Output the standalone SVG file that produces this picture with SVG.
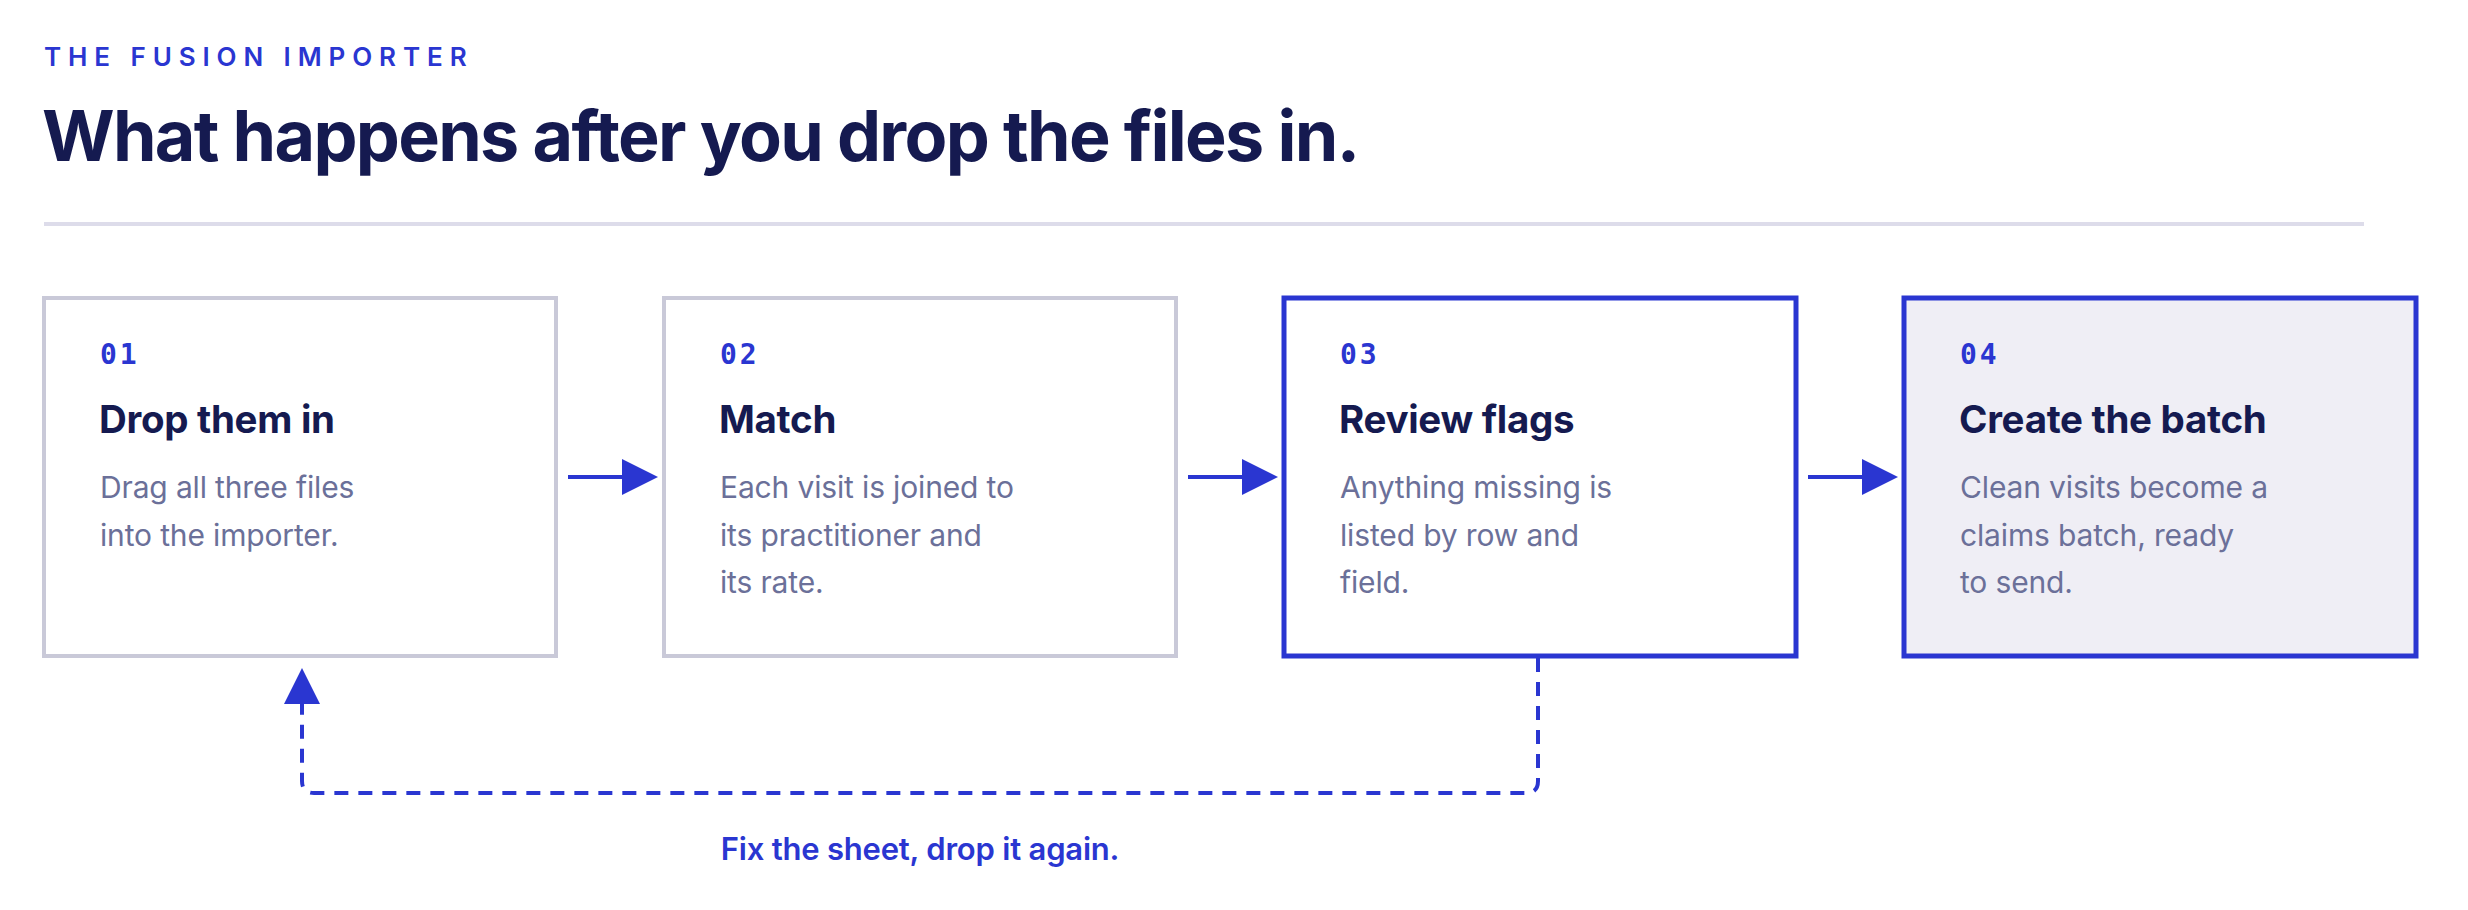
<svg xmlns="http://www.w3.org/2000/svg" width="2468" height="910" viewBox="0 0 2468 910">
  <style>
    .eyebrow { font-family: Inter, "Liberation Sans", sans-serif; font-weight: 600; font-size: 26px; letter-spacing: 6.9px; fill: #2a36d1; }
    .title { font-family: Inter, "Liberation Sans", sans-serif; font-weight: 700; font-size: 70px; letter-spacing: -1.7px; fill: #151a50; }
    .num { font-family: "DejaVu Sans Mono", "Liberation Mono", monospace; font-weight: 700; font-size: 28px; letter-spacing: 3px; fill: #2a36d1; }
    .ntitle { font-family: Inter, "Liberation Sans", sans-serif; font-weight: 700; font-size: 38.5px; letter-spacing: -0.3px; fill: #151a50; }
    .desc { font-family: Inter, "Liberation Sans", sans-serif; font-weight: 400; font-size: 30px; letter-spacing: -0.15px; fill: #6b7099; }
    .box { fill: #ffffff; stroke: #c9c9d8; stroke-width: 4; }
    .box.active { stroke: #2a36d1; stroke-width: 5; }
    .box.final { fill: #efeef5; stroke: #2a36d1; stroke-width: 5; }
    .flow { stroke: #2a36d1; stroke-width: 4; fill: none; }
    .loop { stroke: #2a36d1; stroke-width: 4; fill: none; stroke-dasharray: 14 10; }
    .label { font-family: Inter, "Liberation Sans", sans-serif; font-weight: 600; font-size: 31px; letter-spacing: -0.2px; fill: #2a36d1; }
  </style>
  <defs>
    <marker id="arrow" markerUnits="userSpaceOnUse" markerWidth="36" markerHeight="36" refX="0" refY="18" orient="auto" viewBox="0 0 36 36">
      <path d="M0,0 L36,18 L0,36 Z" fill="#2a36d1" stroke="none"/>
    </marker>
  </defs>

  <rect width="2468" height="910" fill="#ffffff"/>

  <g id="header">
    <text class="eyebrow" x="44" y="66">THE FUSION IMPORTER</text>
    <text class="title" x="42" y="161">What happens after you drop the files in.</text>
    <rect x="44" y="222" width="2320" height="4" fill="#dddcea"/>
  </g>

  <g id="step-01">
    <rect class="box" x="44" y="298" width="512" height="358"/>
    <text class="num" x="100" y="364">01</text>
    <text class="ntitle" x="99" y="433">Drop them in</text>
    <text class="desc" x="100" y="498">Drag all three files</text>
    <text class="desc" x="100" y="545.5">into the importer.</text>
  </g>

  <g id="step-02">
    <rect class="box" x="664" y="298" width="512" height="358"/>
    <text class="num" x="720" y="364">02</text>
    <text class="ntitle" x="719" y="433">Match</text>
    <text class="desc" x="720" y="498">Each visit is joined to</text>
    <text class="desc" x="720" y="545.5">its practitioner and</text>
    <text class="desc" x="720" y="593">its rate.</text>
  </g>

  <g id="step-03">
    <rect class="box active" x="1284" y="298" width="512" height="358"/>
    <text class="num" x="1340" y="364">03</text>
    <text class="ntitle" x="1339" y="433">Review flags</text>
    <text class="desc" x="1340" y="498">Anything missing is</text>
    <text class="desc" x="1340" y="545.5">listed by row and</text>
    <text class="desc" x="1340" y="593">field.</text>
  </g>

  <g id="step-04">
    <rect class="box final" x="1904" y="298" width="512" height="358"/>
    <text class="num" x="1960" y="364">04</text>
    <text class="ntitle" x="1959" y="433">Create the batch</text>
    <text class="desc" x="1960" y="498">Clean visits become a</text>
    <text class="desc" x="1960" y="545.5">claims batch, ready</text>
    <text class="desc" x="1960" y="593">to send.</text>
  </g>

  <g id="connectors">
    <line class="flow" x1="568" y1="477" x2="622" y2="477" marker-end="url(#arrow)"/>
    <line class="flow" x1="1188" y1="477" x2="1242" y2="477" marker-end="url(#arrow)"/>
    <line class="flow" x1="1808" y1="477" x2="1862" y2="477" marker-end="url(#arrow)"/>
    <path class="loop" d="M1538,658 V781 Q1538,793 1526,793 H314 Q302,793 302,781 V704" marker-end="url(#arrow)"/>
    <text class="label" x="920" y="860" text-anchor="middle">Fix the sheet, drop it again.</text>
  </g>
</svg>
